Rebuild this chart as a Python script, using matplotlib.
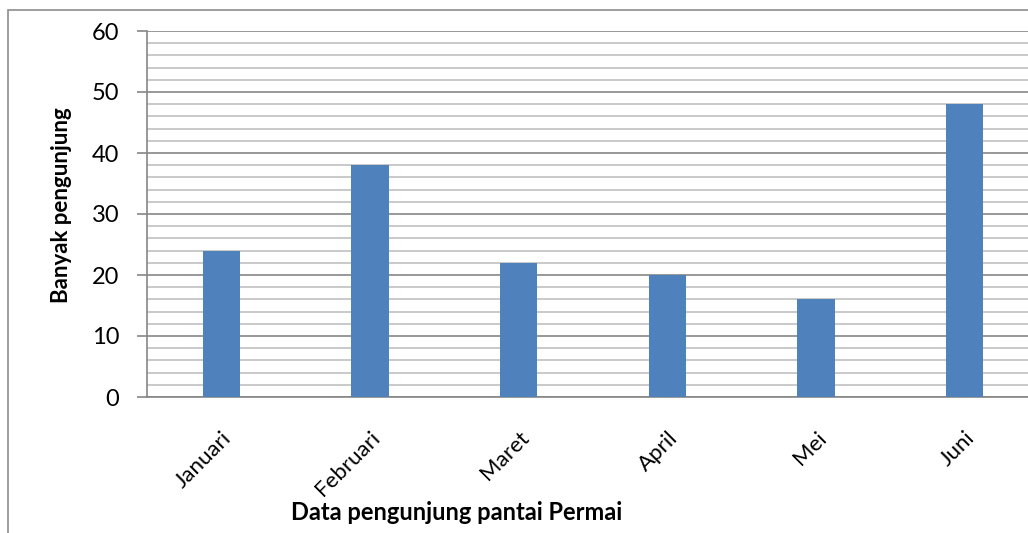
import matplotlib.pyplot as plt
import matplotlib.patches as mpatches
from matplotlib.ticker import MultipleLocator

# data
bulan = ["Januari", "Februari", "Maret", "April", "Mei", "Juni"]
pengunjung = [24, 38, 22, 20, 16, 48]

plt.rcParams['font.family'] = ['Lato', 'DejaVu Sans']

W, H = 1028, 533
fig = plt.figure(figsize=(W / 100, H / 100), dpi=100)

# outer chart frame (cut off on the right/bottom like the original)
fig.patches.append(mpatches.Rectangle((8 / W, -0.1), 1.2, 1 - 10 / H + 0.1,
                                      transform=fig.transFigure, fill=False,
                                      edgecolor='#8c8c8c', linewidth=1.2))

# plot area runs past the right border of the image
left, right = 147 / W, 1039 / W
bottom, top = 1 - 397 / H, 1 - 31 / H
ax = fig.add_axes([left, bottom, right - left, top - bottom])

x = range(len(bulan))
ax.bar(x, pengunjung, width=0.25, color='#4F81BD', zorder=3)

ax.set_xlim(-0.5, len(bulan) - 0.5)
ax.set_ylim(0, 60)
ax.yaxis.set_major_locator(MultipleLocator(10))
ax.yaxis.set_minor_locator(MultipleLocator(2))

ax.grid(True, which='major', axis='y', color='#868686', linewidth=1.2, zorder=0)
ax.grid(True, which='minor', axis='y', color='#c0c0c0', linewidth=1.2, zorder=0)
ax.set_axisbelow(True)

for s in ['top', 'right']:
    ax.spines[s].set_visible(False)
ax.spines['left'].set_color('#868686')
ax.spines['bottom'].set_color('#868686')
ax.spines['left'].set_linewidth(1.2)
ax.spines['bottom'].set_linewidth(1.2)

ax.tick_params(axis='y', which='major', length=7, color='#868686', width=1.2,
               labelsize=17, pad=13)
ax.tick_params(axis='y', which='minor', length=0)
ax.tick_params(axis='x', length=0, labelsize=16, pad=22)

ax.set_xticks(list(x))
ax.set_xticklabels(bulan, rotation=45, ha='right', rotation_mode='anchor')

fig.text(62 / W, 1 - 205 / H, "Banyak pengunjung", rotation=90, fontsize=16,
         fontweight='bold', ha='center', va='center')
fig.text(457 / W, 1 - 512 / H, "Data pengunjung pantai Permai", fontsize=17,
         fontweight='bold', ha='center', va='center')

fig.savefig("out.png", dpi=100)
